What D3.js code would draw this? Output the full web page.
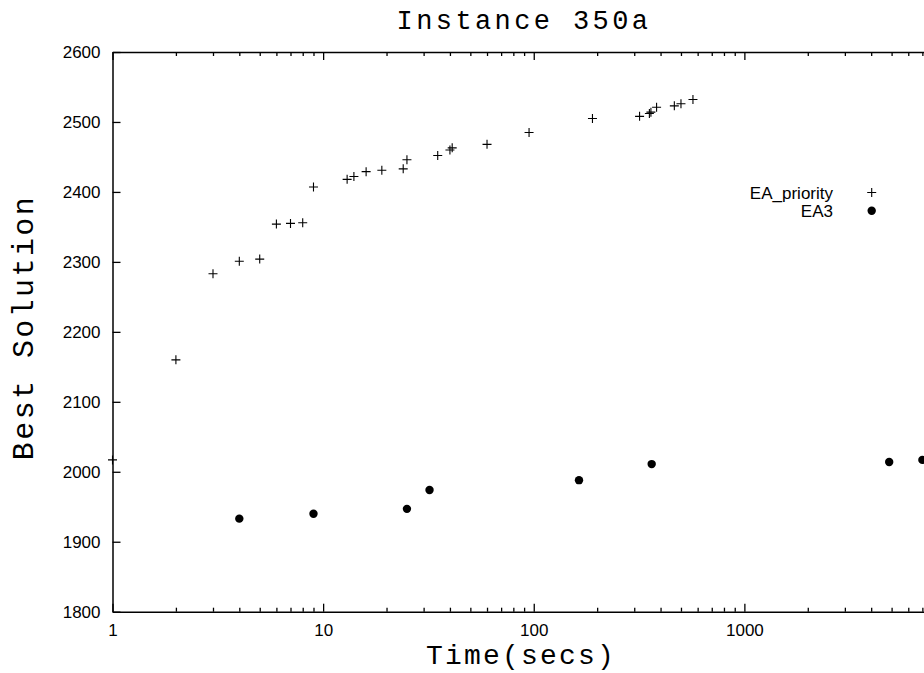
<!DOCTYPE html>
<html lang="en">
  <head>
    <meta charset="utf-8">
    <title>Instance 350a</title>
    <script src="https://cdn.jsdelivr.net/npm/d3@7"></script>
    <style>
      body { margin: 0; background: #fff; }
      .tick text { font-family: "Liberation Sans", Arial, sans-serif; font-size: 17px; fill: #000; }
      .mono { font-family: "Liberation Mono", "Courier New", monospace; }
    </style>
  </head>
  <body>
    <script>
      // EA_priority (plus markers): time in secs, best solution
      const prioTime = [1, 2, 3, 4, 5, 6, 7, 8, 9, 13, 14, 16, 19, 24, 25, 35, 40, 41, 60, 95,
                        190, 318, 354, 360, 383, 465, 500, 570];
      const prioBest = [2017, 2160, 2283, 2301, 2304, 2354, 2355, 2356, 2407, 2418, 2422, 2429, 2431, 2433, 2446, 2452, 2460, 2463, 2468, 2485,
                        2505, 2508, 2512, 2514, 2521, 2523, 2526, 2532];
      // EA3 (filled dots)
      const ea3Time = [4, 9, 25, 32, 164, 363, 4870, 7000];
      const ea3Best = [1933, 1940, 1947, 1974, 1988, 2011, 2014, 2017];

      const xMajor = [1, 10, 100, 1000];
      const yTicks = [1800, 1900, 2000, 2100, 2200, 2300, 2400, 2500, 2600];

      const W = 924, H = 673;
      const svg = d3.select("body").append("svg")
        .attr("width", W)
        .attr("height", H);

      const x = d3.scaleLog().domain([1, 10000]).range([112.5, 955]);
      const y = d3.scaleLinear().domain([1800, 2600]).range([611.7, 52]);

      // minor ticks 2..9 in each decade
      var xMinor = [];
      xMajor.forEach(function(d) {
        for (var k = 2; k <= 9; k++) xMinor.push(d * k);
      });

      // bottom axis
      var bottomAxis = svg.append("g").attr("transform", "translate(0," + y(1800) + ")");
      bottomAxis.call(d3.axisBottom(x).tickValues(xMajor).tickFormat(d3.format("d"))
        .tickSizeInner(-8).tickSizeOuter(0).tickPadding(12));
      bottomAxis.append("g").call(d3.axisBottom(x).tickValues(xMinor).tickFormat("")
        .tickSizeInner(-4).tickSizeOuter(0))
        .select(".domain").remove();

      // top border (mirror ticks)
      var topAxis = svg.append("g").attr("transform", "translate(0," + y(2600) + ")");
      topAxis.call(d3.axisTop(x).tickValues(xMajor).tickFormat("")
        .tickSizeInner(-8).tickSizeOuter(0));
      topAxis.append("g").call(d3.axisTop(x).tickValues(xMinor).tickFormat("")
        .tickSizeInner(-4).tickSizeOuter(0))
        .select(".domain").remove();

      // left axis
      svg.append("g").attr("transform", "translate(" + x(1) + ",0)")
        .call(d3.axisLeft(y).tickValues(yTicks).tickFormat(d3.format("d"))
          .tickSizeInner(-8).tickSizeOuter(0).tickPadding(12));

      svg.selectAll(".domain").attr("stroke", "#000").attr("stroke-width", 1.5);
      svg.selectAll(".tick line").attr("stroke", "#000").attr("stroke-width", 1.3);

      // EA_priority plus markers
      const prio = prioTime.map(function(t, i) { return [t, prioBest[i]]; });
      svg.append("g").selectAll("path").data(prio).enter().append("path")
        .attr("d", function(d) {
          var cx = x(d[0]), cy = y(d[1]);
          return "M" + (cx - 4.5) + "," + cy + "H" + (cx + 4.5) + "M" + cx + "," + (cy - 4.5) + "V" + (cy + 4.5);
        })
        .attr("stroke", "#000").attr("stroke-width", 1.1).attr("fill", "none");

      // EA3 dots
      const ea3 = ea3Time.map(function(t, i) { return [t, ea3Best[i]]; });
      svg.append("g").selectAll("circle").data(ea3).enter().append("circle")
        .attr("cx", function(d) { return x(d[0]); })
        .attr("cy", function(d) { return y(d[1]); })
        .attr("r", 4.2)
        .attr("fill", "#000");

      // legend
      var legend = svg.append("g")
        .attr("font-family", "Liberation Sans, Arial, sans-serif")
        .attr("font-size", 17);
      legend.append("text").attr("x", 833).attr("y", 198.5).attr("text-anchor", "end").text("EA_priority");
      legend.append("path")
        .attr("d", "M867.2,192.5H876.2M871.7,188V197")
        .attr("stroke", "#000").attr("stroke-width", 1.1);
      legend.append("text").attr("x", 833).attr("y", 216.5).attr("text-anchor", "end").text("EA3");
      legend.append("circle").attr("cx", 871.7).attr("cy", 210.7).attr("r", 4.2).attr("fill", "#000");

      // titles
      svg.append("text").attr("class", "mono")
        .attr("x", 524).attr("y", 28.5)
        .attr("text-anchor", "middle")
        .attr("font-size", 27).attr("letter-spacing", 3.4)
        .text("Instance 350a");

      svg.append("text").attr("class", "mono")
        .attr("x", 521).attr("y", 664)
        .attr("text-anchor", "middle")
        .attr("font-size", 28).attr("letter-spacing", 2.2)
        .text("Time(secs)");

      svg.append("text").attr("class", "mono")
        .attr("transform", "translate(33,327.5) rotate(-90)")
        .attr("text-anchor", "middle")
        .attr("font-size", 30).attr("letter-spacing", 2.4)
        .text("Best Solution");
    </script>
  </body>
</html>
